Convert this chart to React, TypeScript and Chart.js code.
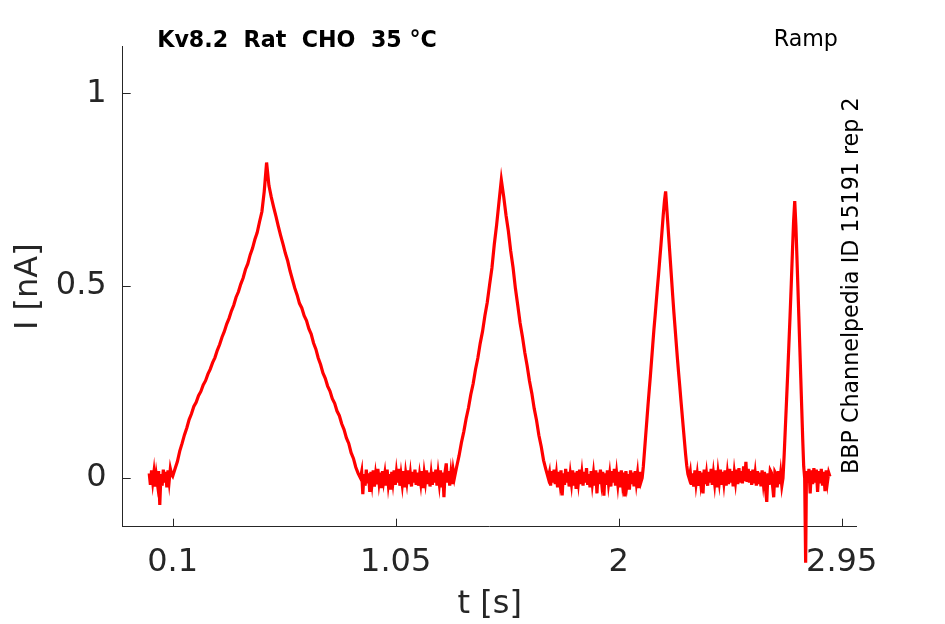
import { useEffect, useRef } from "react"
import { Chart, registerables } from "chart.js"

Chart.register(...registerables)

const FONT = '"DejaVu Sans", sans-serif'
const AXIS = "#262626"

const xTicks = [0.1, 1.05, 2, 2.95]
const xTickLabels = ["0.1", "1.05", "2", "2.95"]
const yTicks = [0, 0.5, 1]
const yTickLabels = ["0", "0.5", "1"]

const title = "Kv8.2  Rat  CHO  35 °C"
const protocol = "Ramp"
const sideNote = "BBP Channelpedia ID 15191 rep 2"

// current trace in nA
const base0 = [0.012, -0.018, 0.02, -0.01, 0.015, -0.022, 0.008, -0.015, 0.018, -0.07, 0.01, -0.02, 0.022, -0.012, 0.016, -0.024, 0.02, -0.008, 0.024, 0.01]

const ramp1Up = [
	0.005, 0.024, 0.043, 0.07, 0.09, 0.112, 0.13, 0.152, 0.167, 0.186, 0.197, 0.214, 0.225, 0.242, 0.253, 0.27, 0.283, 0.3, 0.313, 0.332,
	0.347, 0.366, 0.381, 0.4, 0.415, 0.434, 0.449, 0.47, 0.484, 0.504, 0.52, 0.542, 0.557, 0.58, 0.597, 0.62, 0.638, 0.666, 0.692, 0.745, 0.82
]
const ramp1Down = [
	0.76, 0.73, 0.704, 0.68, 0.654, 0.63, 0.608, 0.584, 0.564, 0.538, 0.516, 0.494, 0.476, 0.454, 0.442, 0.422, 0.409, 0.388, 0.374, 0.351,
	0.335, 0.312, 0.295, 0.273, 0.259, 0.239, 0.226, 0.206, 0.194, 0.174, 0.162, 0.141, 0.126, 0.104, 0.09, 0.066, 0.051, 0.028, 0.012, 0.0
]

const base1 = [
	0.016, -0.042, 0.01, -0.02, 0.022, -0.014, 0.012, -0.036, 0.016, -0.012,
	0.02, -0.022, 0.008, -0.016, 0.024, -0.01, 0.014, -0.026, 0.018, -0.008,
	0.012, -0.02, 0.022, -0.015, 0.01, -0.03, 0.016, -0.01, 0.02, -0.018,
	0.014, -0.012, 0.024, -0.02, 0.008, -0.016, 0.018, -0.024, 0.012, -0.01,
	0.02, -0.016, 0.01, -0.022, 0.016, -0.012, 0.022, -0.018, 0.014, -0.02,
	0.008, -0.014, 0.018, -0.026, 0.012, -0.01, 0.02, -0.016, 0.014, -0.022,
	0.01, -0.018, 0.016, -0.012, 0.022, -0.02, 0.012, -0.014, 0.02, -0.024,
	0.014, -0.05, 0.016, 0.038, -0.012, 0.018, -0.02, 0.012, -0.016, 0.02
]

const ramp2Up = [0.0, 0.03, 0.058, 0.092, 0.12, 0.154, 0.182, 0.217, 0.245, 0.282, 0.312, 0.35, 0.381, 0.422, 0.456, 0.502, 0.546, 0.607, 0.658, 0.717, 0.775]
const ramp2Down = [0.732, 0.683, 0.642, 0.59, 0.547, 0.493, 0.449, 0.403, 0.367, 0.326, 0.292, 0.252, 0.22, 0.181, 0.15, 0.111, 0.082, 0.046, 0.022, 0.0]

const base2 = [
	0.014, -0.02, 0.018, -0.012, 0.022, -0.016, 0.01, -0.024, 0.016, -0.01,
	0.02, -0.045, 0.012, -0.018, 0.024, -0.012, 0.016, -0.022, 0.01, -0.014,
	0.02, -0.02, 0.014, -0.028, 0.018, -0.01, 0.022, -0.016, 0.012, -0.02,
	0.016, -0.012, 0.026, -0.018, 0.01, -0.024, 0.018, -0.014, 0.012, -0.02,
	0.02, -0.04, 0.014, -0.016, 0.022, -0.01, 0.016, -0.046, 0.012, -0.018,
	0.02, -0.014, 0.01, -0.022, 0.018, -0.012, 0.024, -0.02, 0.012, -0.016,
	0.016, -0.024, 0.02, -0.012, 0.014, -0.048, 0.018, -0.014, 0.01, -0.03,
	0.02, -0.016, 0.014, -0.022, 0.018, -0.012, 0.012, -0.026, 0.016, -0.01
]

const ramp3Up = [0.0, 0.03, 0.07, 0.11, 0.15, 0.19, 0.228, 0.265, 0.305, 0.345, 0.385, 0.42, 0.458, 0.495, 0.53, 0.568, 0.605, 0.645, 0.685, 0.72, 0.745]
const ramp3Down = [0.7, 0.655, 0.61, 0.565, 0.52, 0.475, 0.432, 0.392, 0.352, 0.312, 0.275, 0.24, 0.203, 0.168, 0.132, 0.097, 0.062, 0.032, 0.01, 0.0]

const base3 = [
	0.016, -0.018, 0.012, -0.022, 0.02, -0.014, 0.01, -0.02, 0.018, -0.012,
	0.014, -0.04, 0.022, -0.016, 0.01, -0.02, 0.016, -0.012, 0.024, -0.018,
	0.012, -0.014, 0.02, -0.024, 0.014, -0.01, 0.022, -0.018, 0.016, -0.012,
	0.02, -0.02, 0.012, -0.016, 0.024, -0.012, 0.018, -0.022, 0.014, -0.01,
	0.022, -0.016, 0.026, -0.012, 0.018, -0.014, 0.03, -0.008, 0.042, -0.01,
	0.024, -0.012, 0.018, -0.018, 0.022, -0.014, 0.012, -0.02, 0.018, -0.016,
	0.014, -0.022, 0.02, -0.012, 0.016, -0.03, -0.062, 0.012, -0.018, 0.02,
	0.014, -0.02, -0.05, 0.016, 0.01, -0.024, 0.018, -0.016, 0.012, -0.02
]

const ramp4Up = [0.0, 0.06, 0.13, 0.2, 0.27, 0.345, 0.42, 0.5, 0.585, 0.665, 0.72]
const ramp4Down = [0.655, 0.578, 0.5, 0.42, 0.34, 0.26, 0.18, 0.1, 0.03, 0.0, -0.22]

const base4 = [0.018, -0.012, 0.024, -0.04, 0.02, -0.016, 0.026, -0.012, 0.022, -0.036, 0.018, -0.014, 0.024, -0.02, 0.016, -0.034, 0.02, -0.01, 0.014, 0.004]

// [start s, end s, samples]; samples are evenly spaced inside a piece
const segments: [number, number, number[]][] = [
	[0.0, 0.095, base0],
	[0.1, 0.5, ramp1Up],
	[0.51, 0.9, ramp1Down],
	[0.905, 1.295, base1],
	[1.3, 1.5, ramp2Up],
	[1.51, 1.7, ramp2Down],
	[1.705, 2.095, base2],
	[2.1, 2.2, ramp3Up],
	[2.205, 2.3, ramp3Down],
	[2.305, 2.695, base3],
	[2.7, 2.75, ramp4Up],
	[2.755, 2.7965, ramp4Down],
	[2.8, 2.9, base4]
]

const trace = segments.flatMap(([t0, t1, vals]) =>
	vals.map((v, i) => ({ x: t0 + (i * (t1 - t0)) / (vals.length - 1), y: v }))
)

const decor = {
	id: "decor",
	afterDraw(chart: any) {
		const { ctx, chartArea: a, scales } = chart
		ctx.save()
		ctx.strokeStyle = AXIS
		ctx.lineWidth = 1
		ctx.beginPath()
		for (const v of xTicks) {
			const px = Math.round(scales.x.getPixelForValue(v)) + 0.5
			ctx.moveTo(px, a.bottom)
			ctx.lineTo(px, a.bottom - 8)
		}
		for (const v of yTicks) {
			const py = Math.round(scales.y.getPixelForValue(v)) + 0.5
			ctx.moveTo(a.left, py)
			ctx.lineTo(a.left + 8, py)
		}
		ctx.stroke()

		ctx.fillStyle = "#000"
		ctx.textBaseline = "alphabetic"
		ctx.font = `bold 22.2px ${FONT}`
		ctx.textAlign = "left"
		ctx.fillText(title, a.left + 34.5, a.top)
		ctx.font = `22.2px ${FONT}`
		ctx.fillText(protocol, a.right - 83, a.top - 0.7)

		ctx.translate(a.right + 0.8, (a.top + a.bottom) / 2 - 1)
		ctx.rotate(-Math.PI / 2)
		ctx.textAlign = "center"
		ctx.fillText(sideNote, 0, 0)
		ctx.restore()
	}
}

function TraceChart() {
	const canvasRef = useRef<HTMLCanvasElement>(null)

	useEffect(() => {
		const ctx = canvasRef.current?.getContext("2d") as CanvasRenderingContext2D
		const chart = new Chart(ctx, {
			type: "line",
			data: {
				datasets: [
					{
						data: trace,
						borderColor: "#ff0000",
						borderWidth: 3.2,
						pointRadius: 0,
						tension: 0,
						fill: false,
						clip: false as any
					}
				]
			},
			options: {
				animation: false,
				responsive: true,
				maintainAspectRatio: false,
				layout: { padding: { top: 46.7, right: 88.3, left: 0, bottom: 0 } },
				plugins: { legend: { display: false }, tooltip: { enabled: false } },
				scales: {
					x: {
						type: "linear",
						min: -0.113,
						max: 3.014,
						afterBuildTicks: (s: any) => {
							s.ticks = xTicks.map((value) => ({ value }))
						},
						afterFit: (s: any) => {
							s.height = 97.3
						},
						grid: { display: false, drawTicks: false },
						border: { display: true, color: AXIS, width: 1 },
						ticks: {
							autoSkip: false,
							maxRotation: 0,
							padding: 16.6,
							color: AXIS,
							font: { family: FONT, size: 32 },
							callback: (_v: any, i: number) => xTickLabels[i]
						},
						title: {
							display: true,
							text: "t [s]",
							color: AXIS,
							font: { family: FONT, size: 32 },
							padding: { top: 0, bottom: 0.5 }
						}
					},
					y: {
						type: "linear",
						min: -0.1265,
						max: 1.121,
						afterBuildTicks: (s: any) => {
							s.ticks = yTicks.map((value) => ({ value }))
						},
						afterFit: (s: any) => {
							s.width = 122.7
						},
						grid: { display: false, drawTicks: false },
						border: { display: true, color: AXIS, width: 1 },
						ticks: {
							autoSkip: false,
							padding: 16,
							color: AXIS,
							font: { family: FONT, size: 32 },
							callback: (_v: any, i: number) => yTickLabels[i]
						},
						title: {
							display: true,
							text: "I [nA]",
							color: AXIS,
							font: { family: FONT, size: 32 },
							padding: { top: 9.1, bottom: 0 }
						}
					}
				}
			},
			plugins: [decor]
		})

		return () => {
			chart.destroy()
		}
	}, [])

	return <canvas ref={canvasRef} />
}

export default function App() {
	return (
		<div style={{ position: "fixed", left: 0, top: 0, width: 945, height: 624, background: "#fff" }}>
			<TraceChart />
		</div>
	)
}
